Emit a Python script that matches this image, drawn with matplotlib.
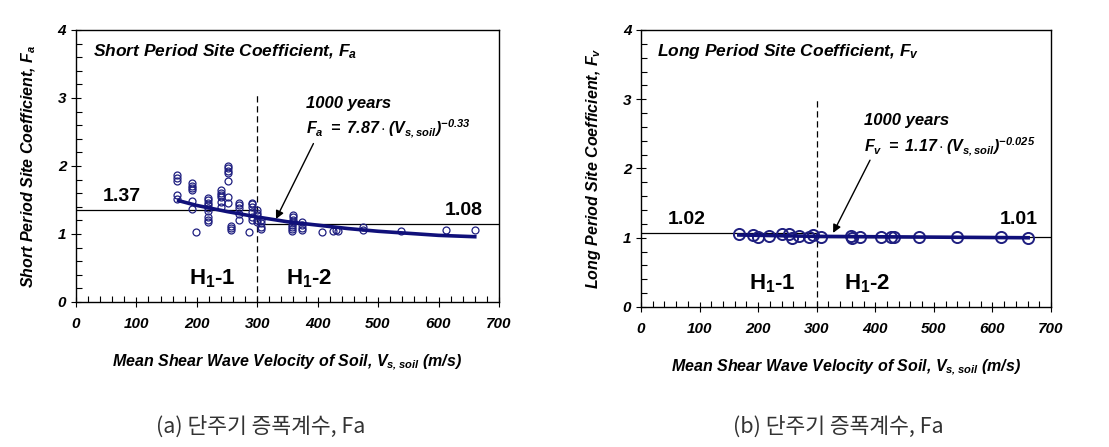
import matplotlib
matplotlib.use("Agg")
import matplotlib.pyplot as plt
from matplotlib.ticker import MultipleLocator

plt.rcParams['font.family'] = ['Liberation Sans', 'DejaVu Sans']
plt.rcParams['font.weight'] = 'bold'
plt.rcParams['font.style'] = 'italic'
plt.rcParams['axes.labelweight'] = 'bold'
plt.rcParams['mathtext.fontset'] = 'custom'
plt.rcParams['mathtext.rm'] = 'Liberation Sans:bold:italic'
plt.rcParams['mathtext.it'] = 'Liberation Sans:bold:italic'
plt.rcParams['mathtext.bf'] = 'Liberation Sans:bold:italic'

# ---- data ----
# short period, Fa
fa_vs = [168, 168, 168, 168, 168,
         192, 192, 192, 192, 192, 192,
         219, 219, 219, 219, 219, 219, 219, 219, 219,
         199,
         240, 240, 240, 240, 240, 240,
         252, 252, 252, 252, 252, 252, 252,
         256, 256, 256,
         270, 270, 270, 270, 270,
         286,
         292, 292, 292, 292, 292, 292,
         299, 299, 299, 299, 299,
         306, 306, 306, 306,
         357, 357, 357, 357, 360, 360, 360, 360,
         374, 374, 374, 374,
         408, 426, 430, 433, 475, 475, 538, 612, 660]
fa_val = [1.87, 1.83, 1.78, 1.58, 1.51,
          1.75, 1.71, 1.67, 1.64, 1.48, 1.37,
          1.53, 1.50, 1.46, 1.43, 1.38, 1.34, 1.25, 1.21, 1.17,
          1.03,
          1.64, 1.61, 1.57, 1.55, 1.47, 1.39,
          2.00, 1.97, 1.93, 1.90, 1.78, 1.55, 1.45,
          1.12, 1.09, 1.06,
          1.45, 1.42, 1.38, 1.30, 1.21,
          1.03,
          1.46, 1.44, 1.40, 1.33, 1.25, 1.21,
          1.35, 1.31, 1.28, 1.21, 1.17,
          1.21, 1.16, 1.11, 1.07,
          1.13, 1.10, 1.07, 1.05, 1.28, 1.25, 1.21, 1.17,
          1.17, 1.13, 1.09, 1.06,
          1.03, 1.04, 1.06, 1.05, 1.11, 1.06, 1.04, 1.06, 1.06]
fa_fit_vs = [170, 200, 250, 300, 350, 400, 450, 500, 550, 600, 660]
fa_fit = [1.49, 1.42, 1.33, 1.25, 1.18, 1.13, 1.08, 1.04, 1.01, 0.98, 0.96]
fa_levels = [1.35, 1.15]   # drawn horizontal lines (labelled 1.37 / 1.08)

# long period, Fv
fv_vs = [167, 191, 200, 218, 240, 252, 257, 270, 286, 293, 308,
         358, 360, 374, 409, 427, 432, 475, 539, 614, 661]
fv_val = [1.06, 1.04, 1.01, 1.03, 1.05, 1.05, 1.00, 1.03, 1.01, 1.04, 1.01,
          1.03, 1.00, 1.01, 1.01, 1.01, 1.01, 1.01, 1.01, 1.01, 1.00]
fv_fit_vs = [167, 300, 661]
fv_fit = [1.04, 1.02, 1.00]
fv_levels = [1.07, 1.01]   # labelled 1.02 / 1.01

navy = '#1f1f80'
fitc = '#10107a'


def style_axes(ax):
    ax.set_xlim(0, 700)
    ax.set_ylim(0, 4)
    ax.xaxis.set_major_locator(MultipleLocator(100))
    ax.xaxis.set_minor_locator(MultipleLocator(20))
    ax.yaxis.set_major_locator(MultipleLocator(1))
    ax.yaxis.set_minor_locator(MultipleLocator(0.2))
    ax.tick_params(which='major', direction='inout', length=7, width=0.8, labelsize=11)
    ax.tick_params(which='minor', direction='in', length=4, width=0.8)
    ax.tick_params(axis='x', which='major', pad=7)
    for sp in ax.spines.values():
        sp.set_linewidth(1.0)


def italic_ticks(ax):
    for t in ax.xaxis.get_major_ticks() + ax.yaxis.get_major_ticks():
        t.label1.set_fontstyle('italic')
        t.label1.set_fontweight('bold')


def draw_panel(ax, vs, vals, ms, mew, fit_vs, fit, levels, sym, coef, expo,
               lab_l, lab_r, pos_l, pos_r, title_y, yr_y, eq_y, arrow_from, arrow_to, vtop):
    style_axes(ax)
    ax.plot([0, 300], [levels[0], levels[0]], color='black', lw=0.9)
    ax.plot([300, 700], [levels[1], levels[1]], color='black', lw=0.9)
    ax.plot([300, 300], [0, vtop], color='black', lw=0.9, ls=(0, (5, 3)))
    ax.plot(vs, vals, 'o', ms=ms, mfc='none', mec=navy, mew=mew)
    ax.plot(fit_vs, fit, '-', color=fitc, lw=2.6)
    name = 'Short' if sym == 'a' else 'Long'
    ax.text(28, title_y, name + ' Period Site Coefficient, $F_' + sym + '$',
            fontsize=12.5, va='center')
    ax.text(pos_l[0], pos_l[1], lab_l, fontsize=14, style='normal', va='center')
    ax.text(pos_r[0], pos_r[1], lab_r, fontsize=14, style='normal', va='center', ha='right')
    ax.text(381, yr_y, '1000 years', fontsize=12, va='center')
    ax.text(381, eq_y, r'$F_' + sym + r'\ =\ ' + coef + r'\cdot(V_{s,soil})^{' + expo + '}$',
            fontsize=11.5, va='center')
    ax.annotate('', xy=arrow_to, xytext=arrow_from,
                arrowprops=dict(arrowstyle='-|>', color='black', lw=1.0,
                                mutation_scale=12, shrinkA=0, shrinkB=0))
    ax.text(225, 0.34, r'$\mathregular{H_1}$-1', fontsize=16, style='normal',
            ha='center', va='center')
    ax.text(386, 0.34, r'$\mathregular{H_1}$-2', fontsize=16, style='normal',
            ha='center', va='center')
    ax.set_ylabel(name + ' Period Site Coefficient, $F_' + sym + '$',
                  fontsize=11.5, fontweight='bold', labelpad=14)
    ax.set_xlabel('Mean Shear Wave Velocity of Soil, $V_{s,soil}$ (m/s)',
                  fontsize=11.5, fontweight='bold', labelpad=16)


fig = plt.figure(figsize=(11.09, 4.47), dpi=100)
ax1 = fig.add_axes([0.0685, 0.3244, 0.3814, 0.6085])
ax2 = fig.add_axes([0.578, 0.3132, 0.3697, 0.6197])

draw_panel(ax1, fa_vs, fa_val, 5, 0.9, fa_fit_vs, fa_fit, fa_levels, 'a', '7.87', '-0.33',
           '1.37', '1.08', (45, 1.55), (674, 1.34), 3.68, 2.92, 2.54,
           (393, 2.33), (331, 1.22), 3.05)
draw_panel(ax2, fv_vs, fv_val, 8, 1.4, fv_fit_vs, fv_fit, fv_levels, 'v', '1.17', '-0.025',
           '1.02', '1.01', (45, 1.26), (678, 1.26), 3.69, 2.70, 2.31,
           (391, 2.12), (328, 1.07), 3.0)

fig.text(0.235, 0.045, '(a) 단주기 증폭계수, Fa', fontsize=15.5, color='#333333',
         weight='normal', style='normal',
         family=['Noto Sans CJK KR', 'DejaVu Sans'], ha='center', va='center')
fig.text(0.756, 0.045, '(b) 단주기 증폭계수, Fa', fontsize=15.5, color='#333333',
         weight='normal', style='normal',
         family=['Noto Sans CJK KR', 'DejaVu Sans'], ha='center', va='center')

fig.canvas.draw()
italic_ticks(ax1)
italic_ticks(ax2)
fig.savefig('out.png', dpi=100)
